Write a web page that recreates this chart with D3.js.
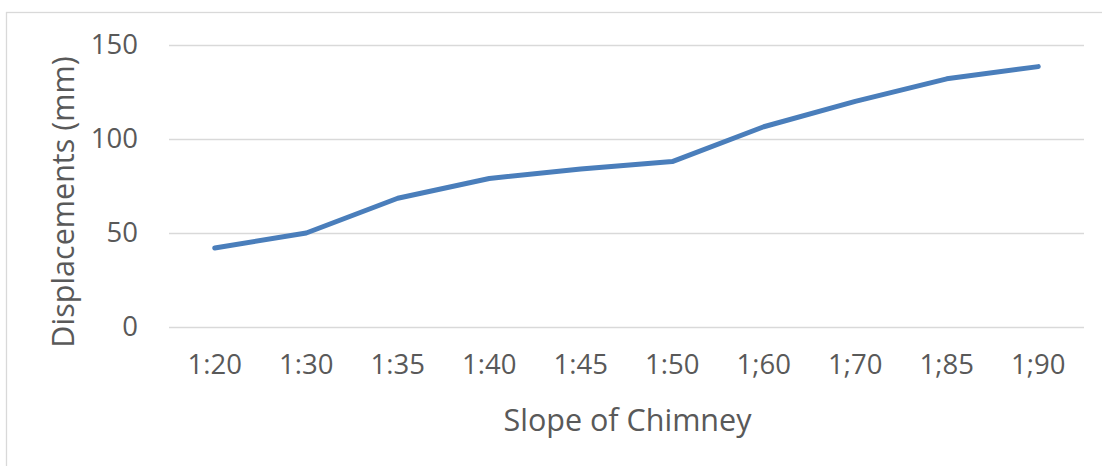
<!DOCTYPE html>
<html>
<head>
<meta charset="utf-8">
<script src="https://cdn.jsdelivr.net/npm/d3@7"></script>
<style>
  html, body { margin: 0; padding: 0; background: #fff; }
  svg { display: block; }
  text { font-family: "Open Sans", "Noto Sans", sans-serif; fill: #595959; }
</style>
</head>
<body>
<svg id="chart" width="1102" height="466"></svg>
<script>
// Slope categories and measured displacements
const categories = ["1:20", "1:30", "1:35", "1:40", "1:45", "1:50", "1;60", "1;70", "1;85", "1;90"];
const displacements = [42, 50, 68.5, 79, 84, 88, 106.5, 120, 132, 138.5];
const yTicks = [0, 50, 100, 150];

const svg = d3.select("#chart");
const W = 1102, H = 466;
const plot = { left: 169, right: 1084, top: 45, bottom: 327 };

// chart frame
svg.append("rect")
  .attr("x", 6.5).attr("y", 12.5)
  .attr("width", W + 10).attr("height", H + 10)
  .attr("fill", "#fff").attr("stroke", "#d9d9d9").attr("stroke-width", 1.3);

const x = d3.scaleBand().domain(categories).range([plot.left, plot.right]);
const y = d3.scaleLinear().domain([0, 150]).range([plot.bottom, plot.top]);

// horizontal gridlines with value labels
const yAxis = d3.axisLeft(y).tickValues(yTicks).tickSize(-(plot.right - plot.left)).tickPadding(31);
const gy = svg.append("g").attr("transform", `translate(${plot.left},0)`).call(yAxis);
gy.select(".domain").remove();
gy.selectAll(".tick line").attr("stroke", "#d9d9d9").attr("stroke-width", 1.3);
gy.selectAll(".tick text").style("font-size", "27.5px").attr("fill", "#595959");

// category labels
const xAxis = d3.axisBottom(x).tickSize(0).tickPadding(27);
const gx = svg.append("g").attr("transform", `translate(0,${plot.bottom})`).call(xAxis);
gx.select(".domain").remove();
gx.selectAll(".tick text").style("font-size", "27.5px").attr("fill", "#595959");

// data line
const line = d3.line()
  .x((d, i) => x(categories[i]) + x.bandwidth() / 2)
  .y(d => y(d));
svg.append("path")
  .datum(displacements)
  .attr("d", line)
  .attr("fill", "none")
  .attr("stroke", "#4a7ebb")
  .attr("stroke-width", 5)
  .attr("stroke-linejoin", "round")
  .attr("stroke-linecap", "round");

// axis titles
svg.append("text")
  .attr("x", (plot.left + plot.right) / 2 + 1).attr("y", 431)
  .attr("text-anchor", "middle")
  .style("font-size", "30.5px")
  .text("Slope of Chimney");

svg.append("text")
  .attr("transform", `translate(74,${(plot.top + plot.bottom) / 2 + 16}) rotate(-90)`)
  .attr("text-anchor", "middle")
  .style("font-size", "30.5px")
  .text("Displacements (mm)");
</script>
</body>
</html>
